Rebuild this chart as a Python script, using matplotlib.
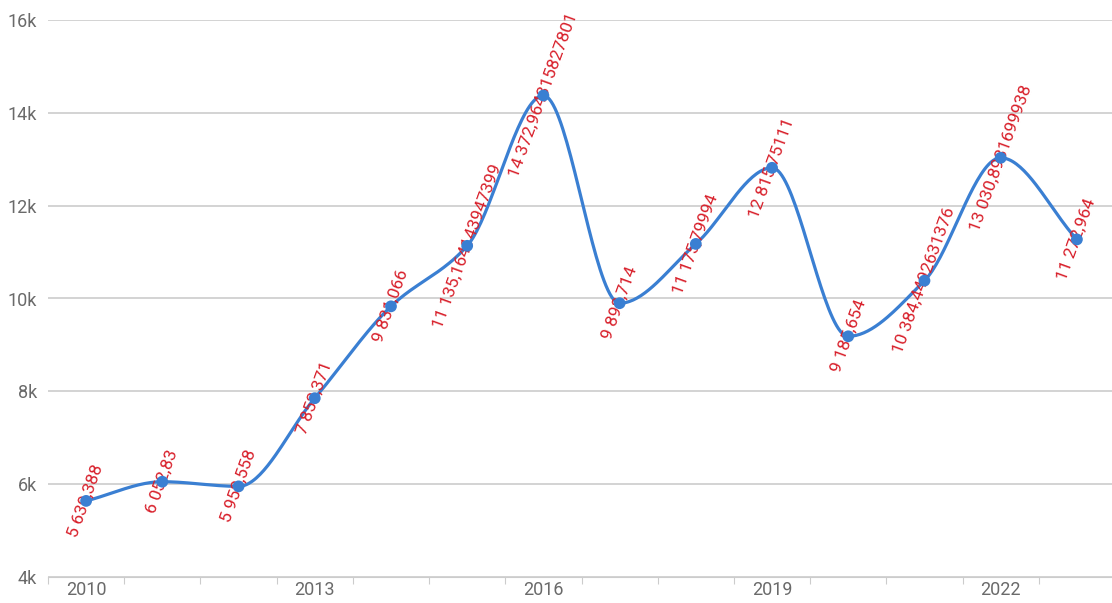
import matplotlib
matplotlib.use("Agg")
import matplotlib.pyplot as plt
import numpy as np

years = [2010, 2011, 2012, 2013, 2014, 2015, 2016, 2017, 2018, 2019, 2020, 2021, 2022, 2023]
value_labels = ["5639.388", "6052.83", "5952.558", "7852.371", "9831.066",
                "11135.164143947399", "14372.964315827801", "9898.714", "11175.79994",
                "12815.75111", "9185.654", "10384.4492631376", "13030.8981699938", "11272.964"]
values = [float(s) for s in value_labels]
yticks = [4000, 6000, 8000, 10000, 12000, 14000, 16000]

plt.rcParams['font.family'] = ['Roboto', 'DejaVu Sans']

LINE = "#3a7fd2"
RED = "#d81f2a"
GREY = "#6a6a6a"


def fmt(s):
    ip, _, dp = s.partition(".")
    n = len(ip)
    groups = []
    while n > 0:
        groups.insert(0, ip[max(0, n - 3):n])
        n -= 3
    out = " ".join(groups)
    return out + ("," + dp if dp else "")


def monotone(x, y, steps=40):
    # Fritsch-Carlson monotone cubic interpolation
    x = np.asarray(x, float)
    y = np.asarray(y, float)
    h = np.diff(x)
    d = np.diff(y) / h
    m = np.zeros_like(y)
    m[0], m[-1] = d[0], d[-1]
    for i in range(1, len(y) - 1):
        if d[i - 1] * d[i] <= 0:
            m[i] = 0
        else:
            w1 = 2 * h[i] + h[i - 1]
            w2 = h[i] + 2 * h[i - 1]
            m[i] = (w1 + w2) / (w1 / d[i - 1] + w2 / d[i])
    xs, ys = [], []
    for i in range(len(x) - 1):
        t = np.linspace(0, 1, steps)
        h00 = 2 * t ** 3 - 3 * t ** 2 + 1
        h10 = t ** 3 - 2 * t ** 2 + t
        h01 = -2 * t ** 3 + 3 * t ** 2
        h11 = t ** 3 - t ** 2
        xs.extend(x[i] + t * h[i])
        ys.extend(h00 * y[i] + h10 * h[i] * m[i] + h01 * y[i + 1] + h11 * h[i] * m[i + 1])
    return np.array(xs), np.array(ys)


fig = plt.figure(figsize=(11.12, 6.03), dpi=100)
ax = fig.add_axes([48 / 1112, 26 / 603, 1067 / 1112, 557 / 603])
ax.set_xlim(-0.5, len(years) - 0.5)
ax.set_ylim(4000, 16000)

x = np.arange(len(years))
sx, sy = monotone(x, values)
ax.plot(sx, sy, color=LINE, lw=2.3, zorder=3, solid_capstyle="round")
ax.scatter(x, values, s=72, color=LINE, zorder=5, edgecolors="none")

for xi, v, s in zip(x, values, value_labels):
    ax.text(xi, v, fmt(s), rotation=70, rotation_mode="anchor", ha="center", va="center",
            color=RED, fontsize=12.5, zorder=4)

ax.set_yticks(yticks)
ax.set_yticklabels([f"{t // 1000}k" for t in yticks], color=GREY, fontsize=13)
ax.grid(axis="y", color="#cccccc", lw=1.2)
ax.tick_params(axis="y", length=0, pad=8)

ax.set_xticks(np.arange(-0.5, len(years), 1), minor=False)
ax.set_xticklabels([])
ax.set_xticks(x[::3], minor=True)
ax.set_xticklabels([str(y) for y in years[::3]], minor=True, color=GREY, fontsize=13)
ax.tick_params(axis="x", which="major", length=5, color="#cccccc")
ax.tick_params(axis="x", which="minor", length=0, pad=3)

for sp in ["top", "right", "left"]:
    ax.spines[sp].set_visible(False)
ax.spines["bottom"].set_color("#cccccc")
ax.set_axisbelow(True)

fig.savefig("out.png", dpi=100)
